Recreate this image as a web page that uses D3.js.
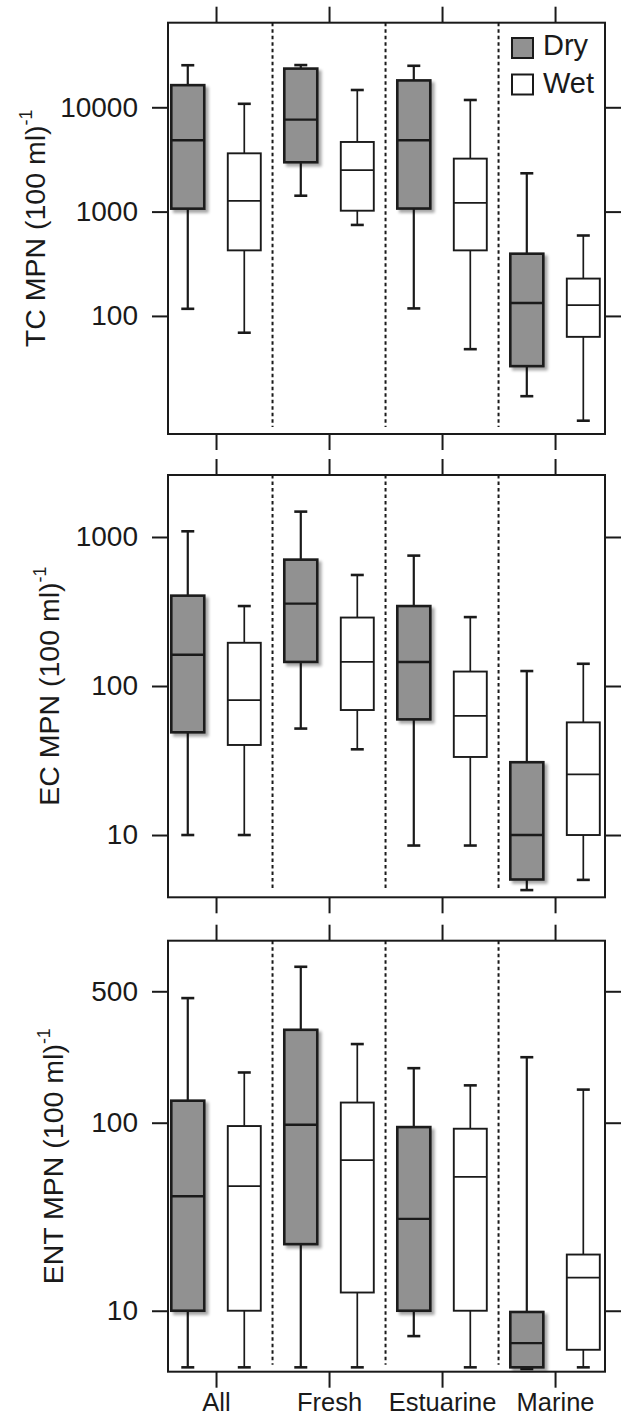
<!DOCTYPE html>
<html>
<head>
<meta charset="utf-8">
<script src="https://cdn.jsdelivr.net/npm/d3@7"></script>
<style>
  body { margin: 0; background: #fff; }
  svg { display: block; font-family: "Liberation Sans", Arial, Helvetica, sans-serif; }
</style>
</head>
<body>
<div id="chart"></div>
<script>
// DATA

// Site types and seasons
var categories = ["All", "Fresh", "Estuarine", "Marine"];
var seasons = ["Dry", "Wet"];
// Each box: [lower whisker, q1, median, q3, upper whisker]
var tcDry = [[117, 1067, 4830, 16300, 25300], [1420, 2970, 7620, 23500, 25400], [118, 1070, 4830, 18100, 25000], [17, 33, 133, 395, 2330]];
var tcWet = [[69, 425, 1265, 3620, 10800], [745, 1020, 2500, 4650, 14650], [48, 425, 1210, 3220, 11750], [9.9, 63, 127, 228, 590]];
var ecDry = [[10, 48.9, 162, 404, 1092], [51.8, 145, 357, 705, 1480], [8.5, 59.7, 145, 344, 750], [4.27, 5.03, 10, 30.8, 126]];
var ecWet = [[10, 40.2, 80.5, 195, 344], [37.6, 69, 145, 288, 556], [8.5, 33.4, 63, 125, 290], [5, 10, 25.5, 57, 141]];
var entDry = [[5, 10, 40.6, 131, 460], [5, 22.6, 97.6, 312, 675], [7.33, 10, 30.8, 94.8, 195], [4.9, 5, 6.73, 9.85, 223]];
var entWet = [[5, 10, 46, 96, 185], [5, 12.5, 63.2, 128, 262], [5, 10, 51.5, 92.9, 158], [5, 6.2, 15, 19.9, 150]];
// Y tick labels per panel
var tcTicks = [100, 1000, 10000];
var ecTicks = [10, 100, 1000];
var entTicks = [10, 100, 500];

// LAYOUT

var width = 621;
var height = 1420;
var frameLeft = 168;
var frameRight = 605;
var tickLen = 16;
var dryFill = "#919191";
var ink = "#1a1a1a";

var svg = d3
    .select("#chart")
    .append("svg")
    .attr("width", width)
    .attr("height", height);

// Soft shadow under the dry boxes
var shadow = svg.append("defs").append("filter")
    .attr("id", "shadow")
    .attr("x", "-20%").attr("y", "-5%")
    .attr("width", "150%").attr("height", "115%");
shadow.append("feGaussianBlur").attr("in", "SourceAlpha").attr("stdDeviation", 1.6);
shadow.append("feOffset").attr("dx", 3).attr("dy", 3).attr("result", "off");
shadow.append("feComponentTransfer").append("feFuncA").attr("type", "linear").attr("slope", 0.35);
var merge = shadow.append("feMerge");
merge.append("feMergeNode");
merge.append("feMergeNode").attr("in", "SourceGraphic");

// Shared category scale (index units, dry/wet offset by a quarter)
var xScale = d3
    .scaleLinear()
    .domain([-0.425, 3.442])
    .range([frameLeft, frameRight]);

var panels = [
    { title: "TC MPN (100 ml)", dry: tcDry, wet: tcWet, ticks: tcTicks, domain: [7.38, 64700], top: 22.7, bottom: 434, titleX: 45, legend: true },
    { title: "EC MPN (100 ml)", dry: ecDry, wet: ecWet, ticks: ecTicks, domain: [3.82, 2606], top: 475, bottom: 897.3, titleX: 59 },
    { title: "ENT MPN (100 ml)", dry: entDry, wet: entWet, ticks: entTicks, domain: [4.74, 929], top: 940.7, bottom: 1371.7, titleX: 63, labels: true }
];

// Style an axis group: thick ticks, no domain line
function styleAxis(g, fontSize) {
    g.select(".domain").remove();
    g.selectAll(".tick line").attr("stroke", ink).attr("stroke-width", 2);
    g.selectAll(".tick text")
        .attr("fill", ink)
        .attr("font-size", fontSize);
}

panels.forEach(function(p) {
    var yScale = d3
        .scaleLog()
        .domain(p.domain)
        .range([p.bottom, p.top]);
    var g = svg.append("g");

    // Axes on all four sides
    g.append("g")
        .attr("transform", "translate(" + frameLeft + ",0)")
        .call(d3.axisLeft(yScale).tickValues(p.ticks).tickFormat(d3.format("d")).tickSize(tickLen).tickPadding(14))
        .call(styleAxis, 28);
    g.append("g")
        .attr("transform", "translate(" + frameRight + ",0)")
        .call(d3.axisRight(yScale).tickValues(p.ticks).tickFormat("").tickSize(tickLen))
        .call(styleAxis, 28);
    g.append("g")
        .attr("transform", "translate(0," + p.top + ")")
        .call(d3.axisTop(xScale).tickValues(d3.range(categories.length)).tickFormat("").tickSize(tickLen))
        .call(styleAxis, 25.5);
    var xAxisBottom = g.append("g")
        .attr("transform", "translate(0," + p.bottom + ")")
        .call(d3.axisBottom(xScale).tickValues(d3.range(categories.length))
            .tickFormat(function(i) { return p.labels ? categories[i] : ""; })
            .tickSize(tickLen))
        .call(styleAxis, 25.5);
    // Category names sit right at the bottom edge
    xAxisBottom.selectAll(".tick text")
        .attr("y", 39.5)
        .attr("dy", null);

    // Dotted dividers between site types
    g.selectAll("line.divider")
        .data([0.5, 1.5, 2.5])
        .enter()
        .append("line")
        .attr("x1", function(d) { return xScale(d); })
        .attr("x2", function(d) { return xScale(d); })
        .attr("y1", p.top)
        .attr("y2", p.bottom - 7)
        .attr("stroke", ink)
        .attr("stroke-width", 2)
        .attr("stroke-dasharray", "3.5,3");

    // Boxes
    var boxes = [];
    categories.forEach(function(c, i) {
        boxes.push({ pos: i - 0.25, v: p.dry[i], dry: true });
        boxes.push({ pos: i + 0.25, v: p.wet[i], dry: false });
    });
    var half = 16.5;
    var cap = 6.5;
    var box = g.selectAll("g.box")
        .data(boxes)
        .enter()
        .append("g");
    // Whiskers
    box.append("line")
        .attr("x1", function(d) { return xScale(d.pos); })
        .attr("x2", function(d) { return xScale(d.pos); })
        .attr("y1", function(d) { return yScale(d.v[0]); })
        .attr("y2", function(d) { return yScale(d.v[4]); })
        .attr("stroke", ink)
        .attr("stroke-width", function(d) { return d.dry ? 2.2 : 1.7; });
    box.selectAll("line.cap")
        .data(function(d) { return [{ pos: d.pos, v: d.v[0] }, { pos: d.pos, v: d.v[4] }]; })
        .enter()
        .append("line")
        .attr("x1", function(d) { return xScale(d.pos) - cap; })
        .attr("x2", function(d) { return xScale(d.pos) + cap; })
        .attr("y1", function(d) { return yScale(d.v); })
        .attr("y2", function(d) { return yScale(d.v); })
        .attr("stroke", ink)
        .attr("stroke-width", 2.6);
    // Interquartile box
    box.append("rect")
        .attr("x", function(d) { return xScale(d.pos) - half; })
        .attr("width", half * 2)
        .attr("y", function(d) { return yScale(d.v[3]); })
        .attr("height", function(d) { return yScale(d.v[1]) - yScale(d.v[3]); })
        .attr("fill", function(d) { return d.dry ? dryFill : "#fff"; })
        .attr("stroke", ink)
        .attr("stroke-width", function(d) { return d.dry ? 2.6 : 1.9; })
        .attr("filter", function(d) { return d.dry ? "url(#shadow)" : null; });
    // Median
    box.append("line")
        .attr("x1", function(d) { return xScale(d.pos) - half; })
        .attr("x2", function(d) { return xScale(d.pos) + half; })
        .attr("y1", function(d) { return yScale(d.v[2]); })
        .attr("y2", function(d) { return yScale(d.v[2]); })
        .attr("stroke", ink)
        .attr("stroke-width", function(d) { return d.dry ? 2.4 : 1.8; });

    // Frame
    g.append("rect")
        .attr("x", frameLeft)
        .attr("y", p.top)
        .attr("width", frameRight - frameLeft)
        .attr("height", p.bottom - p.top)
        .attr("fill", "none")
        .attr("stroke", ink)
        .attr("stroke-width", 2);

    // Y title with superscript
    var mid = (p.top + p.bottom) / 2;
    var title = g.append("text")
        .attr("transform", "translate(" + p.titleX + "," + mid + ")rotate(-90)")
        .attr("text-anchor", "middle")
        .attr("font-size", 28.5)
        .attr("fill", ink);
    title.append("tspan").text(p.title);
    title.append("tspan")
        .attr("font-size", 18)
        .attr("dy", -13)
        .text("-1");

    // Legend
    if (p.legend) {
        seasons.forEach(function(s, k) {
            g.append("rect")
                .attr("x", 512)
                .attr("y", 38 + k * 36.5)
                .attr("width", 21)
                .attr("height", 20)
                .attr("fill", k === 0 ? dryFill : "#fff")
                .attr("stroke", ink)
                .attr("stroke-width", 2);
            g.append("text")
                .attr("x", 543)
                .attr("y", 55 + k * 37.5)
                .attr("font-size", 29)
                .attr("fill", ink)
                .text(s);
        });
    }
});
</script>
</body>
</html>
